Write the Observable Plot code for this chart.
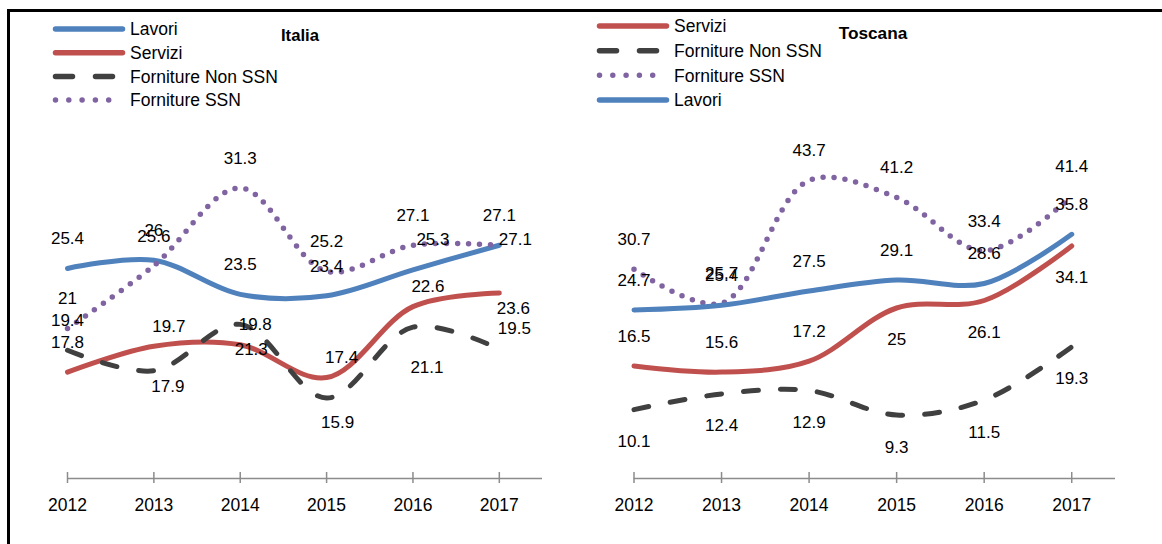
<!DOCTYPE html>
<html><head><meta charset="utf-8">
<script src="https://cdn.jsdelivr.net/npm/d3@7"></script>
<script src="https://cdn.jsdelivr.net/npm/@observablehq/plot@0.6"></script>
<style>
html,body{margin:0;padding:0;background:#fff;}
#wrap{position:relative;width:1162px;height:544px;overflow:hidden;font-family:"Liberation Sans",Arial,sans-serif;}
#wrap > .abs{position:absolute;}
</style></head><body>
<div id="wrap"></div>
<script>
// ---- data ----
const years = [2012, 2013, 2014, 2015, 2016, 2017];
const seriesNames = ["Lavori", "Servizi", "Forniture Non SSN", "Forniture SSN"];

const italiaLavori  = [25.4, 26, 23.5, 23.4, 25.3, 27.1];
const italiaServizi = [17.8, 19.7, 19.8, 17.4, 22.6, 23.6];
const italiaNonSSN  = [19.4, 17.9, 21.3, 15.9, 21.1, 19.5];
const italiaSSN     = [21, 25.6, 31.3, 25.2, 27.1, 27.1];

const toscanaLavori  = [24.7, 25.4, 27.5, 29.1, 28.6, 35.8];
const toscanaServizi = [16.5, 15.6, 17.2, 25, 26.1, 34.1];
const toscanaNonSSN  = [10.1, 12.4, 12.9, 9.3, 11.5, 19.3];
const toscanaSSN     = [30.7, 25.7, 43.7, 41.2, 33.4, 41.4];

// data label placement keywords
const italiaLabelPos = {
  "Lavori": ["t", "t", "t", "t", "tR", "r"],
  "Servizi": ["t", "tr", "tr", "tr", "tr", "rb"],
  "Forniture Non SSN": ["t", "rb", "br", "br", "bb", "tr"],
  "Forniture SSN": ["t", "t", "t", "t", "t", "t"]
};
const toscanaLabelPos = {
  "Lavori": ["t", "t", "t", "t", "t", "t"],
  "Servizi": ["t", "t", "t", "b", "b", "b"],
  "Forniture Non SSN": ["b", "b", "b", "b", "b", "b"],
  "Forniture SSN": ["t", "t", "t", "t", "t", "t"]
};

// ---- styles ----
const posOffsets = {
  t: {dx: 0, dy: -29.5},
  b: {dx: 0, dy: 32},
  tr: {dx: 15, dy: -20},
  tR: {dx: 20, dy: -30},
  br: {dx: 11, dy: 25},
  bb: {dx: 14, dy: 40},
  rb: {dx: 14, dy: 16},
  r: {dx: 16, dy: -6}
};
const styles = {
  "Lavori": {stroke: "#4F81BD", strokeWidth: 5, strokeLinecap: "round"},
  "Servizi": {stroke: "#C0504D", strokeWidth: 5, strokeLinecap: "round"},
  "Forniture Non SSN": {stroke: "#404040", strokeWidth: 5, strokeDasharray: "15 22", strokeLinecap: "round"},
  "Forniture SSN": {stroke: "#8064A2", strokeWidth: 5.5, strokeDasharray: "0 11", strokeLinecap: "round"}
};
const font = '"Liberation Sans", Arial, sans-serif';
const axisColor = "#8c8c8c";

function chart({series, order, domain, width, marginLeft, marginRight, labelPos}) {
  const rows = [];
  for (const name of order) {
    series[name].forEach((v, i) => rows.push({name, year: years[i], value: v, pos: labelPos[name][i]}));
  }
  const marks = [
    Plot.ruleY([domain[0]], {stroke: axisColor, strokeWidth: 1.5}),
    Plot.ruleX(years, {x: d => d, y1: domain[0], y2: domain[0], insetTop: -6, insetBottom: -5, stroke: axisColor, strokeWidth: 1.5}),
    Plot.axisX(years, {tickFormat: d => String(d), tickSize: 0, tickPadding: 20, fontSize: 17.5, fill: "#000", label: null})
  ];
  for (const name of order) {
    marks.push(Plot.line(rows.filter(r => r.name === name), {
      x: "year", y: "value", curve: "catmull-rom", ...styles[name]
    }));
  }
  for (const key of Object.keys(posOffsets)) {
    const sub = rows.filter(r => r.pos === key);
    if (!sub.length) continue;
    marks.push(Plot.text(sub, {
      x: "year", y: "value", text: d => String(d.value),
      dx: posOffsets[key].dx, dy: posOffsets[key].dy,
      fontSize: 17, fill: "#000"
    }));
  }
  return Plot.plot({
    width, height: 544,
    marginLeft, marginRight, marginTop: 137, marginBottom: 66,
    x: {domain: [years[0], years[years.length - 1] + 0.5], label: null},
    y: {domain, axis: null},
    style: {fontFamily: font, background: "transparent", overflow: "visible"},
    marks
  });
}

const wrap = document.getElementById("wrap");

function place(el, left, top) {
  el.classList.add("abs");
  el.style.left = left + "px";
  el.style.top = top + "px";
  wrap.appendChild(el);
}

const italia = chart({
  series: {"Lavori": italiaLavori, "Servizi": italiaServizi, "Forniture Non SSN": italiaNonSSN, "Forniture SSN": italiaSSN},
  order: ["Lavori", "Servizi", "Forniture Non SSN", "Forniture SSN"],
  domain: [10, 35], width: 580, marginLeft: 67, marginRight: 38, labelPos: italiaLabelPos
});
place(italia, 0, 0);

const toscana = chart({
  series: {"Lavori": toscanaLavori, "Servizi": toscanaServizi, "Forniture Non SSN": toscanaNonSSN, "Forniture SSN": toscanaSSN},
  order: ["Servizi", "Forniture Non SSN", "Forniture SSN", "Lavori"],
  domain: [0, 50], width: 582, marginLeft: 53.5, marginRight: 47, labelPos: toscanaLabelPos
});
place(toscana, 580, 0);

// ---- legends, titles, frame (overlay) ----
const overlay = d3.create("svg").attr("width", 1162).attr("height", 544)
  .style("font-family", font).style("pointer-events", "none");
overlay.append("rect").attr("x", 7).attr("y", 9).attr("width", 1155).attr("height", 3).attr("fill", "#000");
overlay.append("rect").attr("x", 7).attr("y", 9).attr("width", 3).attr("height", 535).attr("fill", "#000");

function legend(order, x0, y0, step) {
  order.forEach((name, i) => {
    const s = styles[name];
    const y = y0 + i * step;
    const isDot = s.strokeDasharray === "0 11";
    overlay.append("line")
      .attr("x1", x0 + 2.5).attr("x2", isDot ? x0 + 69 : x0 + 69.5).attr("y1", y).attr("y2", y)
      .attr("stroke", s.stroke).attr("stroke-width", 5.5).attr("stroke-linecap", "round")
      .attr("stroke-dasharray", s.strokeDasharray ? (isDot ? "0 13.3" : "17 23") : null);
    overlay.append("text").attr("x", x0 + 77).attr("y", y).attr("dy", "0.36em")
      .attr("font-size", 17.5).attr("fill", "#000").text(name);
  });
}
legend(seriesNames, 53, 29, 23.7);
legend(["Servizi", "Forniture Non SSN", "Forniture SSN", "Lavori"], 597, 26, 24.67);

overlay.append("text").attr("x", 300).attr("y", 35).attr("dy", "0.36em").attr("text-anchor", "middle")
  .attr("font-size", 16.7).attr("font-weight", "bold").text("Italia");
overlay.append("text").attr("x", 873).attr("y", 32.5).attr("dy", "0.36em").attr("text-anchor", "middle")
  .attr("font-size", 17.2).attr("font-weight", "bold").text("Toscana");

place(overlay.node(), 0, 0);
</script>
</body></html>
